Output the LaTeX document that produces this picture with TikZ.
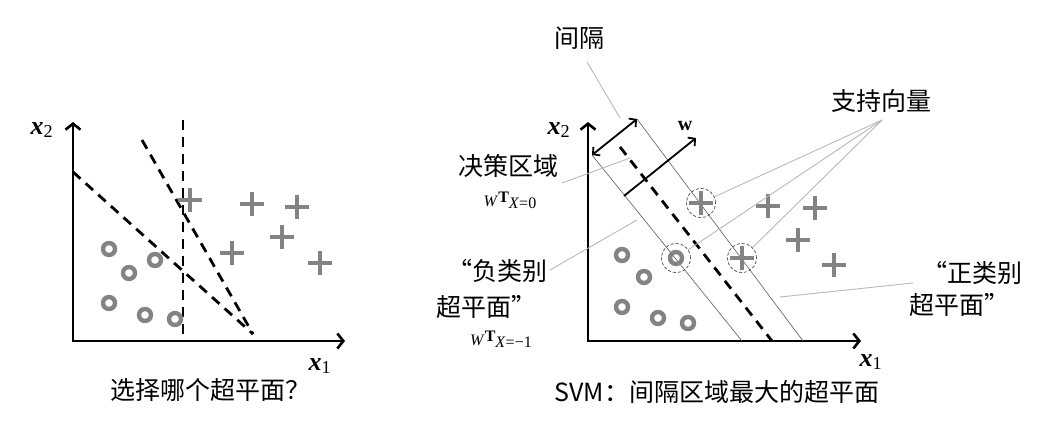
\documentclass[tikz,border=0pt]{standalone}
\usepackage{fontspec}
\setmainfont{Liberation Serif}
\newfontfamily\cjk{Noto Sans CJK SC}
\usetikzlibrary{arrows.meta,positioning,shapes.misc}
\definecolor{ptgray}{HTML}{838383}
\definecolor{leadgray}{HTML}{B8B8B8}
\definecolor{margingray}{HTML}{5A5A5A}
\newcommand{\wtx}[1]{\textit{W}\raisebox{4pt}{\textbf{T}}\raisebox{-2pt}{\textit{X}=#1}}
\tikzset{
  axisline/.style={line width=2.6pt,
    {Straight Barb[length=6pt,width=15pt]}-{Straight Barb[length=6pt,width=15pt]}},
  hyperplane/.style={line width=2.8pt, dash pattern=on 10pt off 7pt},
  marginline/.style={draw=margingray, line width=0.6pt},
  leader/.style={draw=leadgray, line width=0.9pt},
  vecarrow/.style={line width=1.8pt, -{Straight Barb[length=5pt,width=11pt]}},
  negpt/.style={circle, draw=ptgray, line width=4.4pt,
    minimum size=12pt, inner sep=0pt},
  pospt/.style={cross out, draw=ptgray, line width=3.8pt, rotate=45,
    minimum size=12.5pt, inner sep=0pt},
  svring/.style={circle, draw=black!70, densely dashed, line width=0.7pt,
    minimum size=29pt, inner sep=0pt},
  cjklabel/.style={font=\cjk\fontsize{25}{30}\selectfont, inner sep=0pt},
  axlabel/.style={font=\fontsize{26}{30}\selectfont, inner sep=0pt},
  formula/.style={font=\fontsize{16}{18}\selectfont, inner sep=0pt},
}

\begin{document}
\begin{tikzpicture}[x=1pt, y=-1pt]
  \useasboundingbox (0,0) rectangle (1047,423);
  % left panel: which hyperplane?
  \coordinate (lo) at (73,341);
  \coordinate (ly) at (73,122);
  \coordinate (lx) at (345,341);
  \draw[axisline] (ly) -- (lo) -- (lx);
  \node[axlabel] (lx2) at (42,130) {\textbf{\textit{x}}\textsubscript{2}};
  \node[axlabel] (lx1) at (320,366) {\textbf{\textit{x}}\textsubscript{1}};
  \coordinate (la) at (73,172);
  \coordinate (lb) at (142,140);
  \coordinate (lh) at (253,334);
  \coordinate (lc) at (183,120);
  \coordinate (ld) at (183,341);
  \draw[hyperplane] (la) -- (lh);
  \draw[hyperplane] (lb) -- (lh);
  \draw[hyperplane] (lc) -- (ld);
  \node[negpt] (ln1) at (109,249) {};
  \node[negpt] (ln2) at (129,273) {};
  \node[negpt] (ln3) at (155,260) {};
  \node[negpt] (ln4) at (109,303) {};
  \node[negpt] (ln5) at (145,315) {};
  \node[negpt] (ln6) at (175,319) {};
  \node[pospt] (lp1) at (190,200) {};
  \node[pospt] (lp2) at (252,204) {};
  \node[pospt] (lp3) at (297,207) {};
  \node[pospt] (lp4) at (282,237) {};
  \node[pospt] (lp5) at (232,253) {};
  \node[pospt] (lp6) at (320,263) {};
  \node[cjklabel] (lcap) at (210,390) {选择哪个超平面？};

  % right panel: SVM
  \coordinate (ro) at (588,341);
  \coordinate (ry) at (588,122);
  \coordinate (rx) at (861,341);
  \draw[axisline] (ry) -- (ro) -- (rx);
  \node[axlabel] (rx2) at (559,130) {\textbf{\textit{x}}\textsubscript{2}};
  \node[axlabel] (rx1) at (871,362) {\textbf{\textit{x}}\textsubscript{1}};
  \coordinate (mlo) at (592,155);
  \coordinate (mlo2) at (742,341);
  \coordinate (mup) at (637,119);
  \coordinate (mup2) at (803,341);
  \coordinate (dtop) at (620,147);
  \coordinate (dbot) at (772,341);
  \draw[marginline] (mlo) -- (mlo2);
  \draw[marginline] (mup) -- (mup2);
  \draw[hyperplane] (dtop) -- (dbot);
  \draw[line width=1.8pt, {Straight Barb[length=5pt,width=11pt]}-{Straight Barb[length=5pt,width=11pt]}] (mlo) -- (mup);
  \coordinate (wbase) at (624,196);
  \coordinate (wtip) at (696,138);
  \draw[vecarrow] (wbase) -- (wtip);
  \node[font=\fontsize{20}{22}\selectfont\bfseries, inner sep=0pt] (wlbl) at (685,126) {w};
  \node[negpt] (rn1) at (622,255) {};
  \node[negpt] (rn2) at (644,277) {};
  \node[negpt] (rn3) at (676,258) {};
  \node[negpt] (rn4) at (622,307) {};
  \node[negpt] (rn5) at (658,318) {};
  \node[negpt] (rn6) at (688,323) {};
  \node[pospt] (rp1) at (701,203) {};
  \node[pospt] (rp2) at (768,206) {};
  \node[pospt] (rp3) at (815,208) {};
  \node[pospt] (rp4) at (798,240) {};
  \node[pospt] (rp5) at (742,258) {};
  \node[pospt] (rp6) at (834,265) {};
  \node[svring] (sv1) at (rp1) {};
  \node[svring] (sv2) at (rn3) {};
  \node[svring] (sv3) at (rp5) {};

  % labels and leaders
  \node[cjklabel] (gaplbl) at (579,38) {间隔};
  \coordinate (gapa) at (587,62);
  \coordinate (gapb) at (620,118);
  \draw[leader] (gapa) -- (gapb);
  \node[cjklabel] (svlbl) at (881,101) {支持向量};
  \coordinate (svapex) at (882,120);
  \draw[leader] (svapex) -- (sv1);
  \draw[leader] (svapex) -- (sv2);
  \draw[leader] (svapex) -- (sv3);
  \node[cjklabel] (declbl) at (508,166) {决策区域};
  \node[formula] (decfx) at (510,200) {\wtx{0}};
  \coordinate (deca) at (562,183);
  \coordinate (decb) at (630,158);
  \draw[leader] (deca) -- (decb);
  \node[cjklabel] (neglbl) at (497,271) {“负类别};
  \node[cjklabel] (neglbl2) at (486,307) {超平面”};
  \node[formula] (negfx) at (501,339) {\wtx{−1}};
  \coordinate (nega) at (550,270);
  \coordinate (negb) at (637,220);
  \draw[leader] (nega) -- (negb);
  \node[cjklabel] (poslbl) at (972,273) {“正类别};
  \node[cjklabel] (poslbl2) at (959,305) {超平面”};
  \coordinate (posa) at (913,283);
  \coordinate (posb) at (780,297);
  \draw[leader] (posa) -- (posb);
  \node[cjklabel] (rcap) at (717,392) {SVM{\cjk ：}间隔区域最大的超平面};
\end{tikzpicture}
\end{document}
